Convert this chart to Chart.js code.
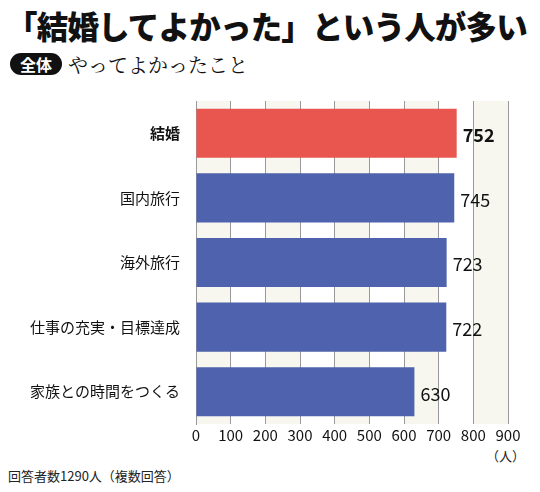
<!DOCTYPE html>
<html><head><meta charset="utf-8">
<script src="https://cdn.jsdelivr.net/npm/chart.js@4"></script>
<style>
body{margin:0;background:#fff;width:540px;height:492px;position:relative;font-family:"Noto Sans CJK JP";overflow:hidden}
#t{position:absolute;left:6px;top:2px;font-size:31.5px;font-weight:900;letter-spacing:-0.8px;color:#111}
#s{position:absolute;left:10px;top:50px;font-size:20px;color:#111;font-family:"Noto Serif CJK JP","Noto Sans CJK JP"}
#s b{display:inline-block;background:#111;color:#fff;font-family:"Noto Sans CJK JP";font-size:16px;border-radius:12px;padding:0 10px;margin-right:6px;line-height:22px;vertical-align:2px}
#n{position:absolute;left:8px;top:466px;font-size:13px;color:#222}
#u{position:absolute;left:486px;top:446px;font-size:13px;color:#222}
#w{position:absolute;left:0;top:84px;width:540px;height:362px}
</style></head><body>
<div id="t">「結婚してよかった」という人が多い</div>
<div id="s"><b>全体</b>やってよかったこと</div>
<div id="w"><canvas id="c"></canvas></div>
<div id="u">（人）</div>
<div id="n">回答者数1290人（複数回答）</div>
<script>
const categories=["結婚","国内旅行","海外旅行","仕事の充実・目標達成","家族との時間をつくる"];
const values=[752,745,723,722,630];
const colors=["#e8564f","#4f62ad","#4f62ad","#4f62ad","#4f62ad"];
const ticks=[0,100,200,300,400,500,600,700,800,900];
const bands={id:'bands',beforeDraw(ch){const x=ch.scales.x,a=ch.chartArea,g=ch.ctx;g.save();g.fillStyle='#f7f6ef';
for(let i=0;i<9;i+=2){const l=x.getPixelForValue(ticks[i]),r=x.getPixelForValue(ticks[i+1]);g.fillRect(l,a.top,r-l,a.bottom-a.top);}g.restore();}};
const lbl={id:'lbl',afterDatasetsDraw(ch){const g=ch.ctx;g.save();g.fillStyle='#111';g.textBaseline='middle';
ch.getDatasetMeta(0).data.forEach((b,i)=>{g.font=(i==0?'bold ':'')+'18px "Noto Sans CJK JP"';g.fillText(values[i],b.x+6,b.y+2);});g.restore();}};
new Chart(document.getElementById('c'),{type:'bar',
data:{labels:categories,datasets:[{data:values,backgroundColor:colors,barPercentage:0.76,categoryPercentage:1}]},
options:{indexAxis:'y',responsive:true,maintainAspectRatio:false,animation:false,
layout:{padding:{left:0,right:32,top:7,bottom:0}},
plugins:{legend:{display:false},tooltip:{enabled:false}},
scales:{x:{min:0,max:900,ticks:{stepSize:100,color:'#111',font:{size:15,family:'Noto Sans CJK JP'},padding:2},
grid:{color:'#999',drawTicks:false},border:{display:false}},
y:{afterFit(s){s.width=196;},ticks:{color:'#111',font:(c)=>({size:15,family:'Noto Sans CJK JP',weight:c.index==0?'bold':'normal'}),padding:8},
grid:{display:false},border:{color:'#999'}}}},
plugins:[bands,lbl]});
</script></body></html>
